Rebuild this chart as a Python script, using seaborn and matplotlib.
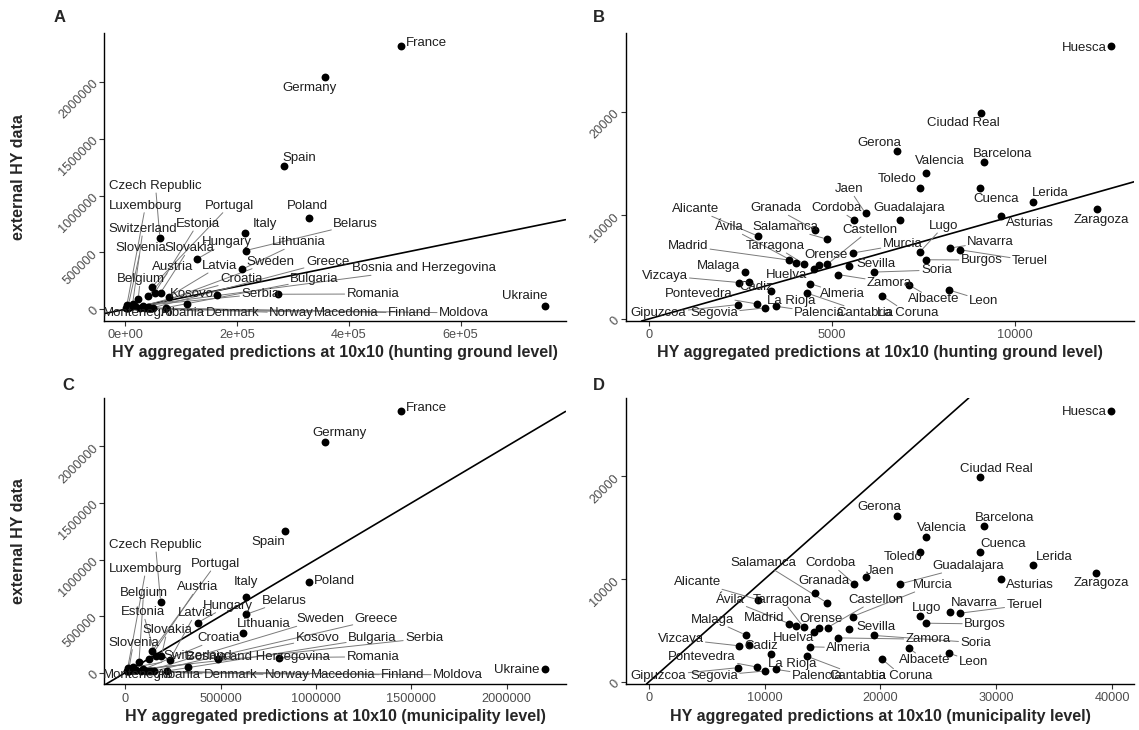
import matplotlib
matplotlib.use("Agg")
import matplotlib.pyplot as plt
import numpy as np
import pandas as pd
import seaborn as sns
from matplotlib.lines import Line2D
from matplotlib.transforms import IdentityTransform

# ---- data: European countries (panels A and C) ----
countries = ["France", "Germany", "Spain", "Poland", "Ukraine", "Czech Republic", "Italy",
             "Belarus", "Hungary", "Lithuania", "Romania", "Kosovo", "Albania", "Portugal",
             "Estonia", "Slovakia", "Austria", "Latvia", "Belgium", "Switzerland", "Luxembourg",
             "Slovenia", "Montenegro", "Croatia", "Sweden", "Greece", "Bulgaria",
             "Bosnia and Herzegovina", "Serbia", "Denmark", "Norway", "Macedonia", "Finland",
             "Moldova"]
hy_hunting_ground = [493500, 356700, 284300, 328600, 750000, 61800, 214500,
                     215200, 128600, 209100, 273600, 164400, 110700, 46900,
                     52800, 63000, 40800, 77900, 22900, 12900, 2700,
                     5000, 1500, 30800, 40800, 49800, 72500,
                     17000, 8100, 26000, 34900, 4500, 43900,
                     3000]
hy_municipality = [1448600, 1048200, 836500, 965900, 2199600, 185000, 632100,
                   634200, 380500, 616300, 805000, 485300, 328100, 141500,
                   158800, 188700, 123700, 232200, 71300, 41900, 12100,
                   18000, 8400, 94300, 123700, 149900, 216500,
                   54000, 27800, 80200, 106400, 17300, 132600,
                   13100]
hy_external = [2313600, 2040600, 1256400, 801800, 31700, 628200, 669600,
               516300, 443200, 352400, 132200, 123300, 46700, 193800,
               146300, 145000, 117200, 111000, 90700, 46700, 37900,
               29100, 14000, 29100, 17600, 14100, 14100,
               24700, 21000, 15000, 13000, 12500, 12000,
               12000]

# ---- data: Spanish provinces (panels B and D) ----
provinces = ["Huesca", "Ciudad Real", "Gerona", "Valencia", "Barcelona", "Toledo", "Cuenca",
             "Lerida", "Zaragoza", "Asturias", "Jaen", "Cordoba", "Guadalajara", "Granada",
             "Salamanca", "Alicante", "Murcia", "Lugo", "Burgos", "Navarra", "Teruel",
             "Sevilla", "Soria", "Zamora", "Malaga", "Vizcaya", "Cadiz", "Huelva", "Almeria",
             "Albacete", "La Rioja", "Cantabria", "Leon", "La Coruna", "Gipuzcoa",
             "Pontevedra", "Segovia", "Palencia", "Madrid", "Ávila", "Tarragona", "Orense",
             "Castellon"]
prov_hunting_ground = [12630, 9060, 6790, 7570, 9160, 7420, 9040,
                       10500, 12230, 9630, 5920, 5610, 6870, 4540,
                       4860, 2980, 5570, 7400, 7570, 8220, 8490,
                       5480, 6140, 5170, 2640, 2470, 2730, 4510, 4400,
                       7100, 3340, 4330, 8190, 6360, 2430,
                       2960, 3170, 3470, 3830, 4030, 4230, 4660,
                       4880]
prov_municipality = [39930, 28620, 21450, 23930, 28940, 23450, 28560,
                     33200, 38650, 30440, 18730, 17730, 21700, 14340,
                     15370, 9420, 17600, 23390, 23930, 25990, 26840,
                     17310, 19410, 16350, 8360, 7800, 8640, 14250, 13900,
                     22450, 10550, 13690, 25900, 20100, 7670,
                     9360, 10020, 10960, 12120, 12750, 13370, 14720,
                     15440]
prov_external = [26360, 19930, 16180, 14120, 15150, 12690, 12630,
                 11340, 10590, 9980, 10200, 9560, 9540, 8620,
                 7720, 8010, 6370, 6460, 5720, 6850, 6690,
                 5140, 4530, 4290, 4580, 3520, 3610, 4870, 3420,
                 3300, 2710, 2490, 2810, 2260, 1390,
                 1450, 1070, 1230, 5690, 5400, 5330, 5230,
                 5300]

# ---- ticks ----
xticks_a = [0, 200000, 400000, 600000]
xticklabels_a = ["0e+00", "2e+05", "4e+05", "6e+05"]
xticks_c = [0, 500000, 1000000, 1500000, 2000000]
yticks_ac = [0, 500000, 1000000, 1500000, 2000000]
xticks_b = [0, 5000, 10000]
xticks_d = [0, 10000, 20000, 30000, 40000]
yticks_bd = [0, 10000, 20000]

xlab_hunting = "HY aggregated predictions at 10x10 (hunting ground level)"
xlab_muni = "HY aggregated predictions at 10x10 (municipality level)"
ylab = "external HY data"

# ---- label layout (repelled positions, figure pixels from top-left) ----
LABELS_A = {
    "France": (426, 43.3), "Germany": (309.6, 87.7), "Spain": (299.6, 158.3),
    "Czech Republic": (155.5, 186), "Luxembourg": (145.5, 205.7), "Portugal": (229.5, 205.7),
    "Poland": (307.3, 205.7), "Italy": (264.9, 224), "Belarus": (355.8, 224),
    "Estonia": (197.5, 224), "Switzerland": (143.1, 229), "Hungary": (226.4, 242.3),
    "Lithuania": (299, 242.3), "Slovenia": (140.9, 248.3), "Slovakia": (189.1, 248.3),
    "Sweden": (270.9, 261.7), "Greece": (327.6, 261.7), "Austria": (173, 266.7),
    "Latvia": (219.6, 266), "Bosnia and Herzegovina": (424, 268.3), "Belgium": (140.4, 279.3),
    "Croatia": (241.3, 279.3), "Bulgaria": (314.5, 279.3), "Kosovo": (192.2, 294),
    "Serbia": (260.5, 294), "Romania": (373, 294), "Ukraine": (524.5, 296),
    "Montenegro": (137.8, 313), "Albania": (182.7, 313), "Denmark": (232.4, 313),
    "Norway": (291.6, 313), "Macedonia": (346.4, 313), "Finland": (409.8, 313),
    "Moldova": (464, 313),
}
LABELS_C = {
    "France": (426, 408.3), "Germany": (339.6, 433.3), "Spain": (268.7, 541.7),
    "Czech Republic": (155.5, 545), "Luxembourg": (146, 569), "Portugal": (215.8, 564),
    "Italy": (245.6, 582.3), "Poland": (334, 581), "Belgium": (143.6, 592.7),
    "Austria": (197.6, 587.3), "Belarus": (284.5, 600.7), "Hungary": (228.2, 605.7),
    "Estonia": (142.9, 612.3), "Latvia": (195.5, 613.3), "Lithuania": (264, 624),
    "Sweden": (320, 619.3), "Greece": (376.4, 619.3), "Slovakia": (167.3, 630),
    "Croatia": (219, 638.3), "Kosovo": (317.6, 638.3), "Bulgaria": (372.4, 638.3),
    "Serbia": (424.2, 638.3), "Slovenia": (133.5, 642.7), "Switzerland": (198, 656),
    "Bosnia and Herzegovina": (258, 656.7), "Romania": (373, 656.7), "Ukraine": (516.9, 670),
    "Montenegro": (137.8, 675), "Albania": (178.9, 675), "Denmark": (231, 675),
    "Norway": (287.3, 675), "Macedonia": (343.6, 675), "Finland": (403, 675),
    "Moldova": (458, 675),
}
LABELS_B = {
    "Huesca": (1084, 47.7), "Ciudad Real": (963.1, 123.3), "Gerona": (879.5, 143.3),
    "Barcelona": (1002.2, 154), "Valencia": (939.5, 160.7), "Toledo": (897.3, 179.3),
    "Jaen": (849.6, 189.3), "Cuenca": (996.4, 199.3), "Lerida": (1050.5, 192.7),
    "Alicante": (695.5, 209.3), "Granada": (775.5, 208.3), "Cordoba": (836.2, 208.3),
    "Guadalajara": (909.1, 207.7), "Zaragoza": (1101.8, 220), "Asturias": (1029.6, 222.7),
    "Ávila": (729.3, 227.3), "Salamanca": (784.9, 227.3), "Castellon": (869.6, 230),
    "Lugo": (943.8, 226), "Madrid": (687.8, 246), "Tarragona": (775.1, 246),
    "Murcia": (902.7, 244.3), "Navarra": (990.7, 241.7), "Orense": (825.6, 255.3),
    "Teruel": (1030, 260.7), "Burgos": (981.8, 260), "Malaga": (718.7, 265.7),
    "Sevilla": (876.4, 264), "Soria": (936.4, 270), "Vizcaya": (664.5, 275.7),
    "Huelva": (786.7, 275), "Zamora": (889.6, 282.7), "Cadiz": (755.8, 287.3),
    "Almeria": (842.7, 294), "Albacete": (933.6, 299.3), "Leon": (983.8, 300.7),
    "Pontevedra": (699.1, 294), "La Rioja": (791.3, 300.7), "Gipuzcoa": (658.5, 313.3),
    "Segovia": (714, 313.3), "Palencia": (819.5, 312.7), "Cantabria": (864.5, 312.7),
    "La Coruna": (907.3, 312.7),
}
LABELS_D = {
    "Huesca": (1084, 411.7), "Ciudad Real": (996.5, 469), "Gerona": (879.5, 506.7),
    "Barcelona": (1005, 517.7), "Valencia": (941.8, 528.3), "Cuenca": (1002.9, 544),
    "Toledo": (903.6, 556.7), "Lerida": (1054.4, 556.7), "Salamanca": (763.6, 563.3),
    "Cordoba": (830.7, 563.3), "Guadalajara": (968.2, 566), "Jaen": (880.4, 570.7),
    "Granada": (823.5, 581), "Murcia": (932.4, 585), "Alicante": (697.8, 582.3),
    "Asturias": (1029.6, 585), "Zaragoza": (1101.8, 583.3), "Ávila": (730, 600),
    "Tarragona": (782.4, 600), "Castellon": (875.5, 600), "Lugo": (926.4, 607.7),
    "Navarra": (974.2, 602.7), "Teruel": (1024.5, 605), "Madrid": (764.2, 618.3),
    "Malaga": (712.5, 620), "Orense": (821.3, 619), "Burgos": (985.1, 624),
    "Sevilla": (876.4, 627.3), "Huelva": (794, 637.7), "Vizcaya": (680.5, 639.3),
    "Zamora": (928.2, 639.3), "Soria": (975.8, 642.7), "Cadiz": (761.3, 646),
    "Almeria": (848.7, 647.7), "Pontevedra": (701.8, 656.7), "Albacete": (925.1, 660),
    "Leon": (973.6, 661.7), "La Rioja": (792.4, 664), "Gipuzcoa": (658.5, 675.7),
    "Segovia": (714, 675.7), "Palencia": (817.3, 675.7), "Cantabria": (858.2, 675.7),
    "La Coruna": (901.8, 675.7),
}

W, H = 1139, 730
sns.set_style("ticks")
plt.rcParams["font.family"] = ["Liberation Sans", "DejaVu Sans"]

fig = plt.figure(figsize=(W / 100, H / 100), dpi=100)


def draw_panel(box, names, xs, ys, xticks, xticklabels, yticks, xlabel, ylabel,
               layout, letter, letter_xy):
    left, top, right, bottom = box
    ax = fig.add_axes([left / W, 1 - bottom / H, (right - left) / W, (bottom - top) / H])
    df = pd.DataFrame({"name": names, "x": xs, "y": ys})

    sns.scatterplot(data=df, x="x", y="y", color="black", s=32, linewidth=0,
                    ax=ax, zorder=3, legend=False)
    ax.axline((0, 0), slope=1, color="black", lw=1.2, zorder=2)

    lo, hi = min(0, df["x"].min()), df["x"].max()
    pad = 0.05 * (hi - lo)
    ax.set_xlim(lo - pad, hi + pad)
    lo, hi = df["y"].min(), df["y"].max()
    pad = 0.05 * (hi - lo)
    ax.set_ylim(lo - pad, hi + pad)

    ax.set_xticks(xticks)
    ax.set_xticklabels(xticklabels)
    ax.set_yticks(yticks)
    ax.set_yticklabels([str(v) for v in yticks], rotation=45, ha="right",
                       va="center", rotation_mode="anchor")
    ax.tick_params(length=3.5, width=0.8, color="#333333", labelsize=9.2,
                   labelcolor="#4d4d4d", pad=2.5)
    sns.despine(ax=ax)
    for s in ["left", "bottom"]:
        ax.spines[s].set_linewidth(1.0)
        ax.spines[s].set_color("black")

    ax.set_xlabel(xlabel, fontsize=11.5, fontweight="bold")
    ax.xaxis.set_label_coords(0.5, -32 / (bottom - top))
    ax.xaxis.label.set_va("center")
    ax.set_ylabel(ylabel, fontsize=11.5, fontweight="bold")
    ax.yaxis.set_label_coords((19 - left) / (right - left), 0.5)
    ax.yaxis.label.set_va("center")

    fig.text(letter_xy[0] / W, 1 - letter_xy[1] / H, letter, fontsize=12,
             fontweight="bold", ha="center", va="center")

    anns = []
    for n, x, y in zip(df["name"], df["x"], df["y"]):
        lx, ly = layout[n]
        t = ax.annotate(n, xy=(x, y), xytext=(lx, H - ly), textcoords="figure pixels",
                        ha="center", va="center", fontsize=9.5, color="#1e1e1e", zorder=4)
        anns.append((t, x, y))
    return ax, anns


panels = [
    draw_panel((104.4, 33, 565.5, 321), countries, hy_hunting_ground, hy_external,
               xticks_a, xticklabels_a, yticks_ac, xlab_hunting, ylab, LABELS_A, "A", (60, 17)),
    draw_panel((625.6, 33, 1134.4, 321), provinces, prov_hunting_ground, prov_external,
               xticks_b, [str(v) for v in xticks_b], yticks_bd, xlab_hunting, "", LABELS_B,
               "B", (599, 17)),
    draw_panel((104.4, 398, 565.5, 684.3), countries, hy_municipality, hy_external,
               xticks_c, [str(v) for v in xticks_c], yticks_ac, xlab_muni, ylab, LABELS_C,
               "C", (68, 385)),
    draw_panel((625.6, 398, 1134.4, 684), provinces, prov_municipality, prov_external,
               xticks_d, [str(v) for v in xticks_d], yticks_bd, xlab_muni, "", LABELS_D,
               "D", (599, 385)),
]

# segments from labels to their points (ggrepel style)
fig.canvas.draw()
renderer = fig.canvas.get_renderer()
for ax, anns in panels:
    for t, x, y in anns:
        bb = t.get_window_extent(renderer)
        px, py = ax.transData.transform((x, y))
        cx, cy = (bb.x0 + bb.x1) / 2, (bb.y0 + bb.y1) / 2
        hw, hh = bb.width / 2 + 2, bb.height / 2 + 1
        dx, dy = px - cx, py - cy
        tx = hw / abs(dx) if dx != 0 else np.inf
        ty = hh / abs(dy) if dy != 0 else np.inf
        k = min(tx, ty)
        if k >= 1:
            continue
        sx, sy = cx + k * dx, cy + k * dy
        dist = np.hypot(px - sx, py - sy)
        if dist < 8:
            continue
        ex = px - 3.5 * (px - sx) / dist
        ey = py - 3.5 * (py - sy) / dist
        ax.add_line(Line2D([sx, ex], [sy, ey], transform=IdentityTransform(),
                           color="#7a7a7a", lw=0.7, zorder=2.5))

fig.savefig("out.png", dpi=100)
